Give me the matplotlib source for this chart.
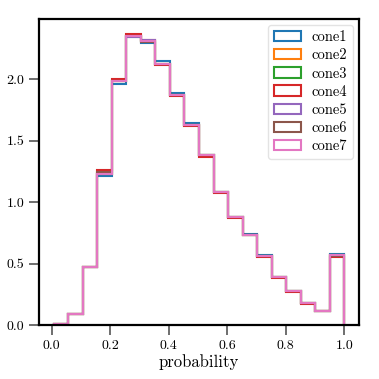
import matplotlib
matplotlib.use("Agg")
import matplotlib.pyplot as plt
import numpy as np

# bin edges (20 equal bins between min and max of the probabilities)
edges = np.linspace(0.007, 1.0, 21)

# density per bin
cone1 = [0.01, 0.09, 0.47, 1.21, 1.96, 2.34, 2.29, 2.15, 1.89, 1.64, 1.38, 1.08, 0.88, 0.74, 0.57, 0.39, 0.28, 0.18, 0.11, 0.58]
cone2 = [0.01, 0.09, 0.47, 1.23, 1.98, 2.35, 2.31, 2.12, 1.87, 1.63, 1.38, 1.08, 0.88, 0.73, 0.56, 0.39, 0.28, 0.18, 0.11, 0.57]
cone3 = [0.01, 0.09, 0.47, 1.23, 1.98, 2.35, 2.31, 2.12, 1.87, 1.63, 1.38, 1.08, 0.88, 0.73, 0.56, 0.39, 0.28, 0.18, 0.11, 0.57]
cone4 = [0.01, 0.09, 0.47, 1.26, 2.00, 2.37, 2.32, 2.11, 1.86, 1.62, 1.37, 1.07, 0.87, 0.73, 0.55, 0.38, 0.27, 0.17, 0.11, 0.55]
cone5 = [0.01, 0.09, 0.47, 1.23, 1.98, 2.34, 2.32, 2.12, 1.87, 1.63, 1.38, 1.08, 0.88, 0.73, 0.56, 0.39, 0.28, 0.18, 0.11, 0.57]
cone6 = [0.01, 0.09, 0.47, 1.24, 1.98, 2.35, 2.30, 2.12, 1.87, 1.63, 1.38, 1.08, 0.88, 0.73, 0.56, 0.39, 0.28, 0.18, 0.11, 0.56]
cone7 = [0.01, 0.09, 0.47, 1.23, 1.98, 2.35, 2.31, 2.12, 1.87, 1.63, 1.38, 1.08, 0.88, 0.73, 0.56, 0.39, 0.28, 0.18, 0.11, 0.57]
labels = ["cone1", "cone2", "cone3", "cone4", "cone5", "cone6", "cone7"]
series = [cone1, cone2, cone3, cone4, cone5, cone6, cone7]

plt.rcParams["font.family"] = "serif"
plt.rcParams["font.serif"] = ["cmr10", "DejaVu Serif"]
plt.rcParams["mathtext.fontset"] = "cm"
plt.rcParams["axes.formatter.use_mathtext"] = True

fig = plt.figure(figsize=(3.79, 3.79), dpi=100)
ax = fig.add_axes([0.103, 0.1425, 0.844, 0.8075])

centers = (edges[:-1] + edges[1:]) / 2
colors = plt.get_cmap("tab10").colors
for i, (vals, lab) in enumerate(zip(series, labels)):
    ax.hist(centers, bins=edges, weights=vals, histtype="step",
            color=colors[i], lw=1.5, label=lab)

ax.set_xticks([0.0, 0.2, 0.4, 0.6, 0.8, 1.0])
ax.set_yticks([0.0, 0.5, 1.0, 1.5, 2.0])
ax.xaxis.set_major_formatter(matplotlib.ticker.FormatStrFormatter("%.1f"))
ax.yaxis.set_major_formatter(matplotlib.ticker.FormatStrFormatter("%.1f"))
ax.tick_params(length=7, width=1.2, color="#555555", labelsize=10)
for sp in ax.spines.values():
    sp.set_linewidth(1.6)
ax.set_xlabel("probability", fontsize=12, labelpad=2)

leg = ax.legend(loc="upper right", fontsize=10.5, frameon=True, fancybox=True,
                handlelength=1.9, handletextpad=0.7, borderpad=0.4,
                labelspacing=0.3, borderaxespad=0.4)
leg.get_frame().set_edgecolor("#dddddd")

fig.savefig("out.png", dpi=100)
